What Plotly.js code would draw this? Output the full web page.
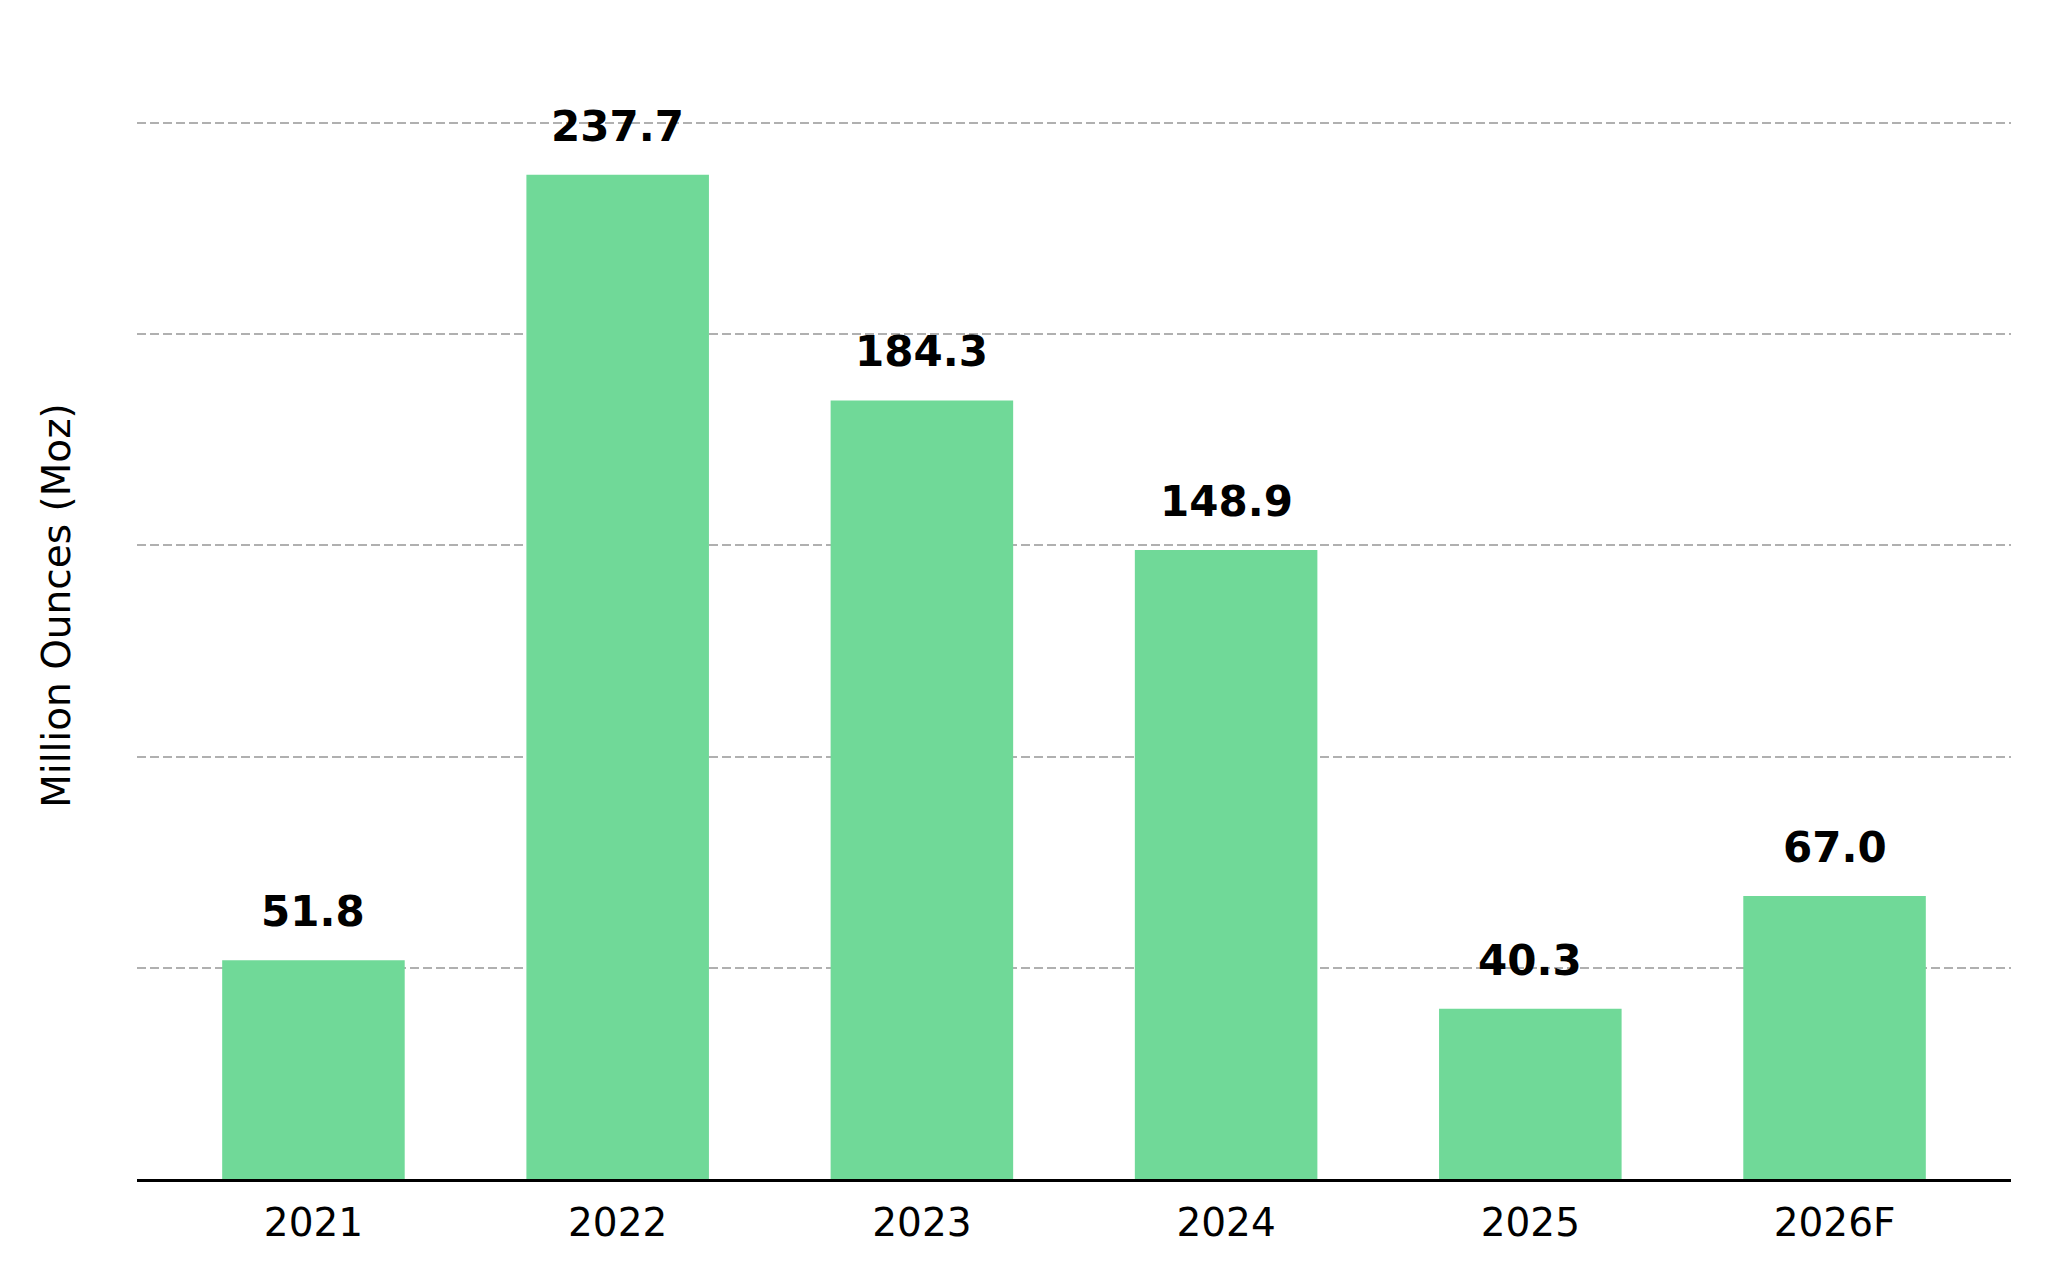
<!DOCTYPE html>
<html>
<head>
<meta charset="utf-8">
<script src="https://cdn.plot.ly/plotly-3.0.1.min.js"></script>
<style>html,body{margin:0;padding:0;background:#fff;}#chart{width:2048px;height:1280px;}</style>
</head>
<body>
<div id="chart"></div>
<script>
const categories = ["2021", "2022", "2023", "2024", "2025", "2026F"];
const values = [51.8, 237.7, 184.3, 148.9, 40.3, 67.0];
const valueLabels = ["51.8", "237.7", "184.3", "148.9", "40.3", "67.0"];
const gridValues = [50, 100, 150, 200, 250];

const FONT = "DejaVu Sans, Verdana, sans-serif";

const trace = {
  type: "bar",
  x: categories,
  y: values,
  width: 0.6,
  marker: {color: "#70D998", line: {width: 0}},
  hoverinfo: "x+y"
};

const annotations = categories.map((c, i) => ({
  x: i, y: values[i], xref: "x", yref: "y",
  text: "<b>" + valueLabels[i] + "</b>",
  showarrow: false, xanchor: "center", yanchor: "bottom",
  yshift: 22,
  font: {family: FONT, size: 42, color: "#000000"}
}));

const layout = {
  width: 2048, height: 1280,
  paper_bgcolor: "#ffffff", plot_bgcolor: "#ffffff",
  margin: {l: 137, r: 37, t: 32, b: 101, pad: 0},
  showlegend: false,
  bargap: 0.4,
  font: {family: FONT, color: "#000000"},
  xaxis: {
    type: "category",
    range: [-0.58, 5.58],
    showline: true, linecolor: "#000000", linewidth: 2.5,
    showgrid: false, zeroline: false,
    ticks: "",
    tickfont: {family: FONT, size: 39, color: "#000000"},
    ticklabelstandoff: 8
  },
  yaxis: {
    range: [0, 271.5],
    tickvals: gridValues,
    showticklabels: false,
    ticks: "",
    showline: false, zeroline: false,
    showgrid: true, gridcolor: "#b0b0b0", gridwidth: 2, griddash: "9px,4px",
    title: {text: "Million Ounces (Moz)", font: {family: FONT, size: 39, color: "#000000"}, standoff: 53},
    automargin: false
  },
  annotations: annotations
};

Plotly.newPlot("chart", [trace], layout, {displayModeBar: false, staticPlot: true});
</script>
</body>
</html>
